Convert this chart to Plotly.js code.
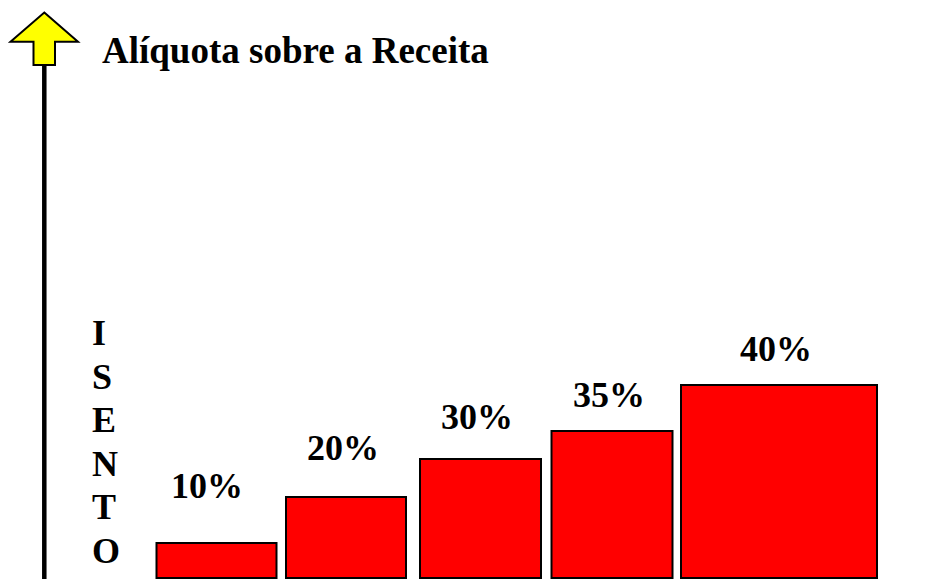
<!DOCTYPE html>
<html>
<head>
<meta charset="utf-8">
<script src="https://cdn.plot.ly/plotly-3.0.1.min.js"></script>
<style>
  html, body { margin: 0; padding: 0; background: #ffffff; }
  #chart { width: 943px; height: 579px; }
</style>
</head>
<body>
<div id="chart"></div>
<script>
// ---- data ----
const rates = ['10%', '20%', '30%', '35%', '40%'];
const barHeights = [35, 81, 119, 147, 193];   // drawn bar heights (picture units)
const titleText = 'Alíquota sobre a Receita';
const exemptLetters = ['I', 'S', 'E', 'N', 'T', 'O'];

// ---- layout / style constants ----
const W = 943, H = 579;
const barCenters = [216.5, 346, 480.5, 612, 779];
const barWidths = [120, 120, 121, 121, 196];
const labelGap = [57, 49, 42, 36, 36];
const labelDx = [-10, -3, -4, -3, -3];
const FONT = '"Liberation Serif", "Times New Roman", serif';

const trace = {
  type: 'bar',
  x: barCenters,
  y: barHeights,
  width: barWidths,
  base: 0,
  marker: { color: '#ff0000', line: { color: '#000000', width: 2 } },
  hoverinfo: 'skip',
  showlegend: false
};

// y value v <-> pixel p : v = 578 - p
const annotations = [];
annotations.push({
  x: 100, y: 578 - 50, xref: 'x', yref: 'y', xanchor: 'left', yanchor: 'middle',
  text: '<b>' + titleText + '</b>', showarrow: false,
  font: { family: FONT, size: 37, color: '#000000' }
});
rates.forEach((r, i) => {
  annotations.push({
    x: barCenters[i] + labelDx[i], y: barHeights[i] + labelGap[i],
    xref: 'x', yref: 'y', xanchor: 'center', yanchor: 'middle',
    text: '<b>' + r + '</b>', showarrow: false,
    font: { family: FONT, size: 36, color: '#000000' }
  });
});
exemptLetters.forEach((ch, i) => {
  annotations.push({
    x: 90, y: 578 - (333 + i * 43.6), xref: 'x', yref: 'y', xanchor: 'left', yanchor: 'middle',
    text: '<b>' + ch + '</b>', showarrow: false,
    font: { family: FONT, size: 36, color: '#000000' }
  });
});

const Y = p => 578 - p;
const shapes = [
  { type: 'line', xref: 'x', yref: 'y', x0: 44.3, x1: 44.3, y0: Y(64), y1: Y(585),
    line: { color: '#000000', width: 4.5 } },
  { type: 'path', xref: 'x', yref: 'y',
    path: `M44.3,${Y(12.5)} L78,${Y(41.7)} L55,${Y(41.7)} L55,${Y(65)} L33.5,${Y(65)} L33.5,${Y(41.7)} L10.5,${Y(41.7)} Z`,
    fillcolor: '#ffff00', line: { color: '#000000', width: 2 } }
];

const layout = {
  width: W, height: H,
  margin: { l: 0, r: 0, t: 0, b: 0, pad: 0 },
  paper_bgcolor: '#ffffff', plot_bgcolor: '#ffffff',
  xaxis: { range: [0, W], visible: false, fixedrange: true },
  yaxis: { range: [-1, 578], visible: false, fixedrange: true },
  bargap: 0,
  showlegend: false,
  annotations: annotations,
  shapes: shapes
};

Plotly.newPlot('chart', [trace], layout, { displayModeBar: false, staticPlot: true });
</script>
</body>
</html>
